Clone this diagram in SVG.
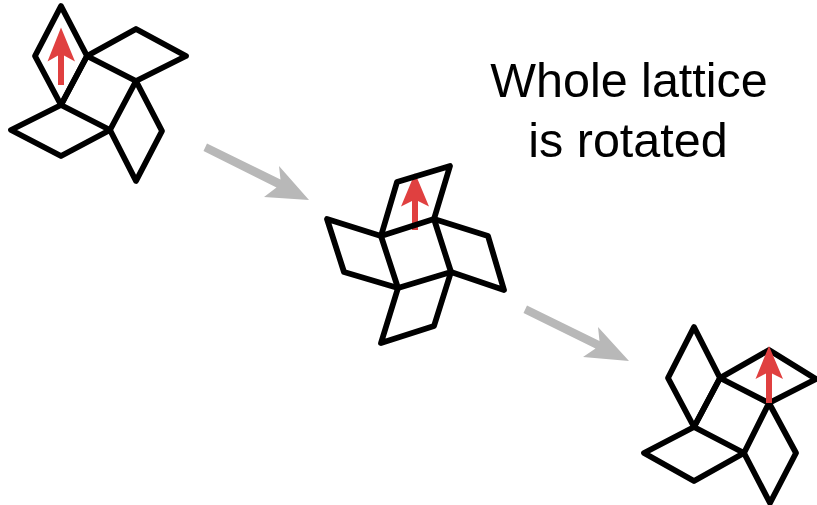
<svg xmlns="http://www.w3.org/2000/svg" width="817" height="505" viewBox="0 0 817 505">
<style>
.l{fill:none;stroke:#000;stroke-width:5.800;stroke-linejoin:round;stroke-linecap:round}
.r{fill:#e04040}
.g{fill:#b8b8b8}
text{font-family:"Liberation Sans",Arial,sans-serif;font-size:48.500px;fill:#000;text-anchor:middle}
</style>
<rect width="817" height="505" fill="#fff"/>
<g id="connectors">
<path class="g" d="M203.500 151L207 143.500L280.500 179.500L279 166L309 200L264 197L276.500 187.500Z"/>
<path class="g" d="M523.500 313L527 305.500L599.500 341L598 327L629 361L583 357L595.500 348.500Z"/>
</g>
<g id="lattice-1">
<path class="l" d="M87 56L136 81L110 130L61 105Z"/>
<path class="l" d="M61 6L87 56L61 105L35 56Z"/>
<path class="l" d="M87 56L136 29L186 56L136 81"/>
<path class="l" d="M136 81L162 131L136 181L110 130"/>
<path class="l" d="M61 105L11 130L61 156L110 130"/>
<path class="r" d="M58 85V55.500L47.500 61.500L61 27.500L75 61.500L64 55.500V85Z"/>
</g>
<g id="lattice-2">
<path class="r" d="M412 230V201L401 206.500L415 173L429 206.500L418 201V230Z"/>
<path class="l" d="M381 236L434 219L451 272L398 288Z"/>
<path class="l" d="M381 236L397 182L450 166L434 219"/>
<path class="l" d="M381 236L327 219L344 272L398 288"/>
<path class="l" d="M434 219L488 236L504 290L451 272"/>
<path class="l" d="M398 288L381 343L434 326L451 272"/>
</g>
<g id="lattice-3">
<path class="l" d="M720 378L769 403L744 453L694 427Z"/>
<path class="l" d="M694 327L720 378L694 427L668 378Z"/>
<path class="l" d="M720 378L769 350L816 379L769 403"/>
<path class="l" d="M769 403L796 453L770 503L744 453"/>
<path class="l" d="M694 427L644 453L694 481L744 453"/>
<path class="r" d="M766 403V373.500L755.500 379L769 346L783 379L772 373.500V403Z"/>
</g>
<g id="label">
<text x="629" y="97">Whole lattice</text>
<text x="628" y="157">is rotated</text>
</g>
</svg>
